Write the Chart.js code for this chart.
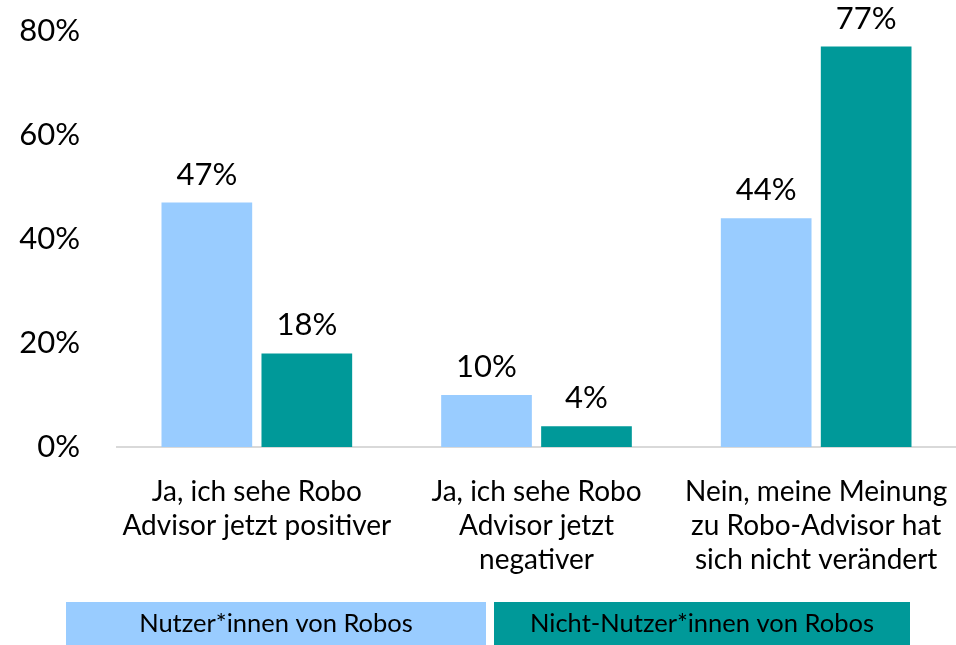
<!DOCTYPE html>
<html><head><meta charset="utf-8">
<script src="https://cdn.jsdelivr.net/npm/chart.js@4/dist/chart.umd.min.js"></script>
<style>html,body{margin:0;padding:0;background:#fff;}#wrap{width:956px;height:645px;position:relative;}</style>
</head><body><div id="wrap"><canvas id="c" width="956" height="645"></canvas></div>
<script>
const categories = [
  ["Ja, ich sehe Robo", "Advisor jetzt positiver"],
  ["Ja, ich sehe Robo", "Advisor jetzt", "negativer"],
  ["Nein, meine Meinung", "zu Robo-Advisor hat", "sich nicht verändert"]
];
const seriesNames = ["Nutzer*innen von Robos", "Nicht-Nutzer*innen von Robos"];
const nutzer = [47, 10, 44];
const nichtNutzer = [18, 4, 77];
const yTicks = [0, 20, 40, 60, 80];
const colors = ["#99CCFF", "#009999"];
const FONT = "Lato, 'Open Sans', sans-serif";

const dataLabels = {
  id: 'dataLabels',
  afterDatasetsDraw(chart) {
    const ctx = chart.ctx;
    ctx.save();
    ctx.font = "31px " + FONT;
    ctx.fillStyle = "#000";
    ctx.textAlign = "center";
    ctx.textBaseline = "alphabetic";
    chart.data.datasets.forEach((ds, i) => {
      chart.getDatasetMeta(i).data.forEach((bar, j) => {
        ctx.fillText(ds.data[j] + "%", bar.x, bar.y - 18);
      });
    });
    ctx.restore();
  }
};
const boxLegend = {
  id: 'boxLegend',
  afterDraw(chart) {
    const ctx = chart.ctx;
    const boxes = [[66, 420], [494, 416]];
    ctx.save();
    ctx.font = "25.5px " + FONT;
    ctx.textAlign = "center";
    ctx.textBaseline = "middle";
    chart.data.datasets.forEach((ds, i) => {
      const [x, w] = boxes[i];
      ctx.fillStyle = ds.backgroundColor;
      ctx.fillRect(x, 602, w, 43);
      ctx.fillStyle = "#000";
      ctx.fillText(ds.label, x + w / 2, 624);
    });
    ctx.restore();
  }
};

new Chart(document.getElementById('c'), {
  type: 'bar',
  data: {
    labels: categories,
    datasets: [
      { label: seriesNames[0], data: nutzer, backgroundColor: colors[0] },
      { label: seriesNames[1], data: nichtNutzer, backgroundColor: colors[1] }
    ]
  },
  options: {
    responsive: false,
    animation: false,
    events: [],
    layout: { padding: { top: 31, right: 0, bottom: 50, left: 0 } },
    plugins: { legend: { display: false }, tooltip: { enabled: false } },
    datasets: { bar: { categoryPercentage: 0.715, barPercentage: 0.907 } },
    scales: {
      x: {
        grid: { display: false, drawTicks: false },
        border: { display: true, color: "#d9d9d9", width: 2 },
        ticks: { color: "#000", font: { family: FONT, size: 28, lineHeight: 1.214 }, padding: 28, maxRotation: 0, autoSkip: false },
        afterFit: s => { s.height = 148; s.paddingLeft = 0; s.paddingRight = 0; }
      },
      y: {
        min: 0, max: 80,
        afterBuildTicks: s => { s.ticks = yTicks.map(v => ({ value: v })); },
        grid: { display: false, drawTicks: false },
        border: { display: false },
        ticks: { color: "#000", font: { family: FONT, size: 31 }, padding: 37, callback: v => v + "%" },
        afterFit: s => { s.width = 117; s.paddingTop = 0; s.paddingBottom = 0; }
      }
    }
  },
  plugins: [dataLabels, boxLegend]
});
</script></body></html>
